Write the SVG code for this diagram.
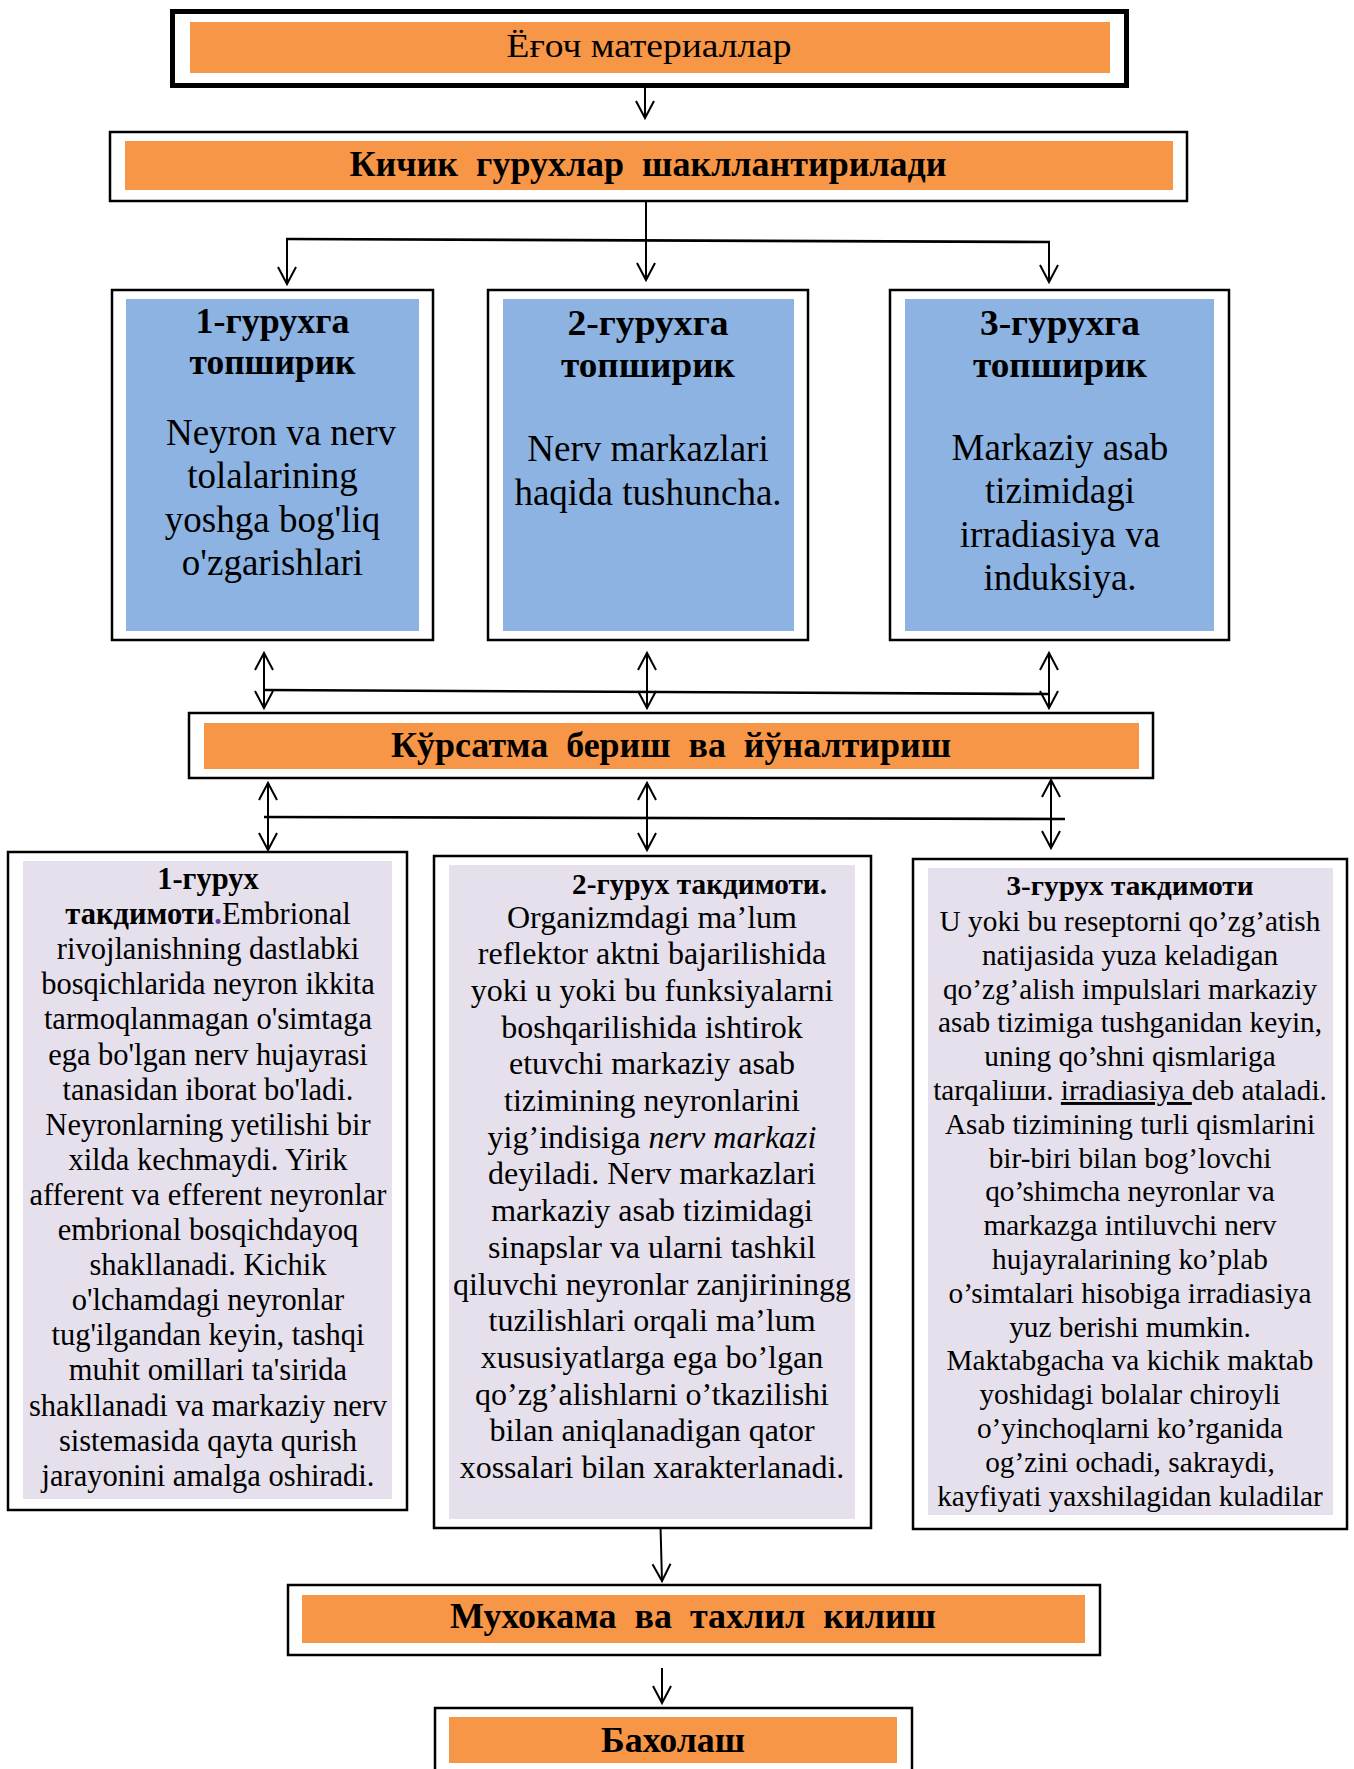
<svg xmlns="http://www.w3.org/2000/svg" width="1354" height="1769" viewBox="0 0 1354 1769">
<style>
.frame{fill:#fff;stroke:#000;stroke-width:2.5}
.thick{fill:#fff;stroke:#000;stroke-width:5}
.or{fill:#F79646}
.bl{fill:#8DB3E2}
.lv{fill:#E5E0EC}
text{font-family:"Liberation Serif","Times New Roman",serif;fill:#000}
.h{font-weight:bold;font-size:36px;text-anchor:middle;white-space:pre}
.bt{font-weight:bold;font-size:36px;text-anchor:middle}
.bb{font-size:37px;text-anchor:middle}
.tL{font-size:30.5px;text-anchor:middle}
.tM{font-size:32px;text-anchor:middle}
.tR{font-size:29.3px;text-anchor:middle}
.c{fill:none;stroke:#000;stroke-width:2}
.hl{fill:none;stroke:#000;stroke-width:2.6}
</style>
<defs>
<marker id="ah" viewBox="-20 -12 24 24" refX="0" refY="0" markerWidth="24" markerHeight="24" markerUnits="userSpaceOnUse" orient="auto-start-reverse">
<path d="M-17,-9 L0,0 L-17,9" fill="none" stroke="#000" stroke-width="2"/>
</marker>
</defs>

<g id="connectors">
<line class="c" x1="645" y1="88" x2="645" y2="118" marker-end="url(#ah)"/>
<line class="c" x1="646" y1="202" x2="646" y2="280" marker-end="url(#ah)"/>
<line class="hl" x1="286" y1="239" x2="1050" y2="242"/>
<line class="c" x1="287" y1="239" x2="287" y2="284" marker-end="url(#ah)"/>
<line class="c" x1="1049" y1="242" x2="1049" y2="282" marker-end="url(#ah)"/>
<line class="c" x1="264" y1="653" x2="264" y2="708" marker-start="url(#ah)" marker-end="url(#ah)"/>
<line class="c" x1="647" y1="653" x2="647" y2="708" marker-start="url(#ah)" marker-end="url(#ah)"/>
<line class="c" x1="1049" y1="653" x2="1049" y2="708" marker-start="url(#ah)" marker-end="url(#ah)"/>
<line class="hl" x1="264" y1="690" x2="1049" y2="694"/>
<line class="c" x1="268" y1="783" x2="268" y2="850" marker-start="url(#ah)" marker-end="url(#ah)"/>
<line class="c" x1="647" y1="783" x2="647" y2="850" marker-start="url(#ah)" marker-end="url(#ah)"/>
<line class="c" x1="1051" y1="780" x2="1051" y2="848" marker-start="url(#ah)" marker-end="url(#ah)"/>
<line class="hl" x1="264" y1="817" x2="1065" y2="819"/>
<line class="c" x1="660" y1="1508" x2="662" y2="1581" marker-end="url(#ah)"/>
<line class="c" x1="662" y1="1668" x2="662" y2="1703" marker-end="url(#ah)"/>
</g>

<g id="n-materials">
<rect class="thick" x="172.5" y="11.5" width="954" height="74"/>
<rect class="or" x="190" y="22" width="920" height="51"/>
<text x="649" y="57" font-size="34" text-anchor="middle" textLength="285" lengthAdjust="spacingAndGlyphs">Ёғоч материаллар</text>
</g>

<g id="n-groups">
<rect class="frame" x="110" y="132" width="1077" height="69"/>
<rect class="or" x="125" y="141" width="1048" height="49"/>
<text class="h" xml:space="preserve" x="648" y="176" textLength="597" lengthAdjust="spacingAndGlyphs">Кичик  гурухлар  шакллантирилади</text>
</g>

<g id="n-task1">
<rect class="frame" x="112" y="290" width="321" height="350"/>
<rect class="bl" x="126" y="299" width="293" height="332"/>
<text class="bt" x="272.5" y="333" textLength="154" lengthAdjust="spacingAndGlyphs">1-гурухга</text>
<text class="bt" x="272.5" y="374" textLength="166" lengthAdjust="spacingAndGlyphs">топширик</text>
<text class="bb" x="281" y="445">Neyron va nerv</text>
<text class="bb" x="272.5" y="488">tolalarining</text>
<text class="bb" x="272.5" y="532">yoshga bog'liq</text>
<text class="bb" x="272.5" y="575">o'zgarishlari</text>
</g>

<g id="n-task2">
<rect class="frame" x="488" y="290" width="320" height="350"/>
<rect class="bl" x="503" y="299" width="291" height="332"/>
<text class="bt" x="648" y="335" textLength="161" lengthAdjust="spacingAndGlyphs">2-гурухга</text>
<text class="bt" x="648" y="377" textLength="174" lengthAdjust="spacingAndGlyphs">топширик</text>
<text class="bb" x="648" y="461">Nerv markazlari</text>
<text class="bb" x="648" y="505">haqida tushuncha.</text>
</g>

<g id="n-task3">
<rect class="frame" x="890" y="290" width="339" height="350"/>
<rect class="bl" x="905" y="299" width="309" height="332"/>
<text class="bt" x="1060" y="335" textLength="160" lengthAdjust="spacingAndGlyphs">3-гурухга</text>
<text class="bt" x="1060" y="377" textLength="174" lengthAdjust="spacingAndGlyphs">топширик</text>
<text class="bb" x="1060" y="460">Markaziy asab</text>
<text class="bb" x="1060" y="503">tizimidagi</text>
<text class="bb" x="1060" y="547">irradiasiya va</text>
<text class="bb" x="1060" y="590">induksiya.</text>
</g>

<g id="n-guidance">
<rect class="frame" x="189" y="713" width="964" height="65"/>
<rect class="or" x="204" y="723" width="935" height="46"/>
<text class="h" xml:space="preserve" x="671" y="757" textLength="560" lengthAdjust="spacingAndGlyphs">Кўрсатма  бериш  ва  йўналтириш</text>
</g>

<g id="n-pres1">
<rect class="frame" x="8" y="852" width="399" height="658"/>
<rect class="lv" x="23" y="861" width="369" height="638"/>
<text class="tL" x="208" y="889" font-weight="bold">1-гурух</text>
<text class="tL" x="208" y="924.1"><tspan font-weight="bold">такдимоти</tspan><tspan font-weight="bold" fill="#7030A0">.</tspan>Embrional</text>
<text class="tL" x="208" y="959.2">rivojlanishning dastlabki</text>
<text class="tL" x="208" y="994.3">bosqichlarida neyron ikkita</text>
<text class="tL" x="208" y="1029.4">tarmoqlanmagan o'simtaga</text>
<text class="tL" x="208" y="1064.5">ega bo'lgan nerv hujayrasi</text>
<text class="tL" x="208" y="1099.6">tanasidan iborat bo'ladi.</text>
<text class="tL" x="208" y="1134.7">Neyronlarning yetilishi bir</text>
<text class="tL" x="208" y="1169.8">xilda kechmaydi. Yirik</text>
<text class="tL" x="208" y="1204.9">afferent va efferent neyronlar</text>
<text class="tL" x="208" y="1240">embrional bosqichdayoq</text>
<text class="tL" x="208" y="1275.1">shakllanadi. Kichik</text>
<text class="tL" x="208" y="1310.2">o'lchamdagi neyronlar</text>
<text class="tL" x="208" y="1345.3">tug'ilgandan keyin, tashqi</text>
<text class="tL" x="208" y="1380.4">muhit omillari ta'sirida</text>
<text class="tL" x="208" y="1415.5">shakllanadi va markaziy nerv</text>
<text class="tL" x="208" y="1450.6">sistemasida qayta qurish</text>
<text class="tL" x="208" y="1485.7">jarayonini amalga oshiradi.</text>
</g>

<g id="n-pres2">
<rect class="frame" x="434" y="856" width="437" height="672"/>
<rect class="lv" x="449" y="865" width="406" height="654"/>
<text x="572" y="894" font-size="29" font-weight="bold" textLength="255" lengthAdjust="spacingAndGlyphs">2-гурух такдимоти.</text>
<text class="tM" x="652" y="927.5">Organizmdagi ma’lum</text>
<text class="tM" x="652" y="964.2">reflektor aktni bajarilishida</text>
<text class="tM" x="652" y="1000.9">yoki u yoki bu funksiyalarni</text>
<text class="tM" x="652" y="1037.6">boshqarilishida ishtirok</text>
<text class="tM" x="652" y="1074.3">etuvchi markaziy asab</text>
<text class="tM" x="652" y="1111">tizimining neyronlarini</text>
<text class="tM" x="652" y="1147.7">yig’indisiga <tspan font-style="italic">nerv markazi</tspan></text>
<text class="tM" x="652" y="1184.4">deyiladi. Nerv markazlari</text>
<text class="tM" x="652" y="1221.1">markaziy asab tizimidagi</text>
<text class="tM" x="652" y="1257.8">sinapslar va ularni tashkil</text>
<text class="tM" x="652" y="1294.5">qiluvchi neyronlar zanjiriningg</text>
<text class="tM" x="652" y="1331.2">tuzilishlari orqali ma’lum</text>
<text class="tM" x="652" y="1367.9">xususiyatlarga ega bo’lgan</text>
<text class="tM" x="652" y="1404.6">qo’zg’alishlarni o’tkazilishi</text>
<text class="tM" x="652" y="1441.3">bilan aniqlanadigan qator</text>
<text class="tM" x="652" y="1478">xossalari bilan xarakterlanadi.</text>
</g>

<g id="n-pres3">
<rect class="frame" x="913" y="859" width="434" height="670"/>
<rect class="lv" x="928" y="868" width="405" height="647"/>
<text x="1130" y="895" font-size="27" font-weight="bold" text-anchor="middle" textLength="247" lengthAdjust="spacingAndGlyphs">3-гурух такдимоти</text>
<text class="tR" x="1130" y="931">U yoki bu reseptorni qo’zg’atish</text>
<text class="tR" x="1130" y="964.8">natijasida yuza keladigan</text>
<text class="tR" x="1130" y="998.6">qo’zg’alish impulslari markaziy</text>
<text class="tR" x="1130" y="1032.4">asab tizimiga tushganidan keyin,</text>
<text class="tR" x="1130" y="1066.2">uning qo’shni qismlariga</text>
<text class="tR" x="1130" y="1100">tarqaliши. <tspan text-decoration="underline">irradiasiya </tspan>deb ataladi.</text>
<text class="tR" x="1130" y="1133.8">Asab tizimining turli qismlarini</text>
<text class="tR" x="1130" y="1167.6">bir-biri bilan bog’lovchi</text>
<text class="tR" x="1130" y="1201.4">qo’shimcha neyronlar va</text>
<text class="tR" x="1130" y="1235.2">markazga intiluvchi nerv</text>
<text class="tR" x="1130" y="1269">hujayralarining ko’plab</text>
<text class="tR" x="1130" y="1302.8">o’simtalari hisobiga irradiasiya</text>
<text class="tR" x="1130" y="1336.6">yuz berishi mumkin.</text>
<text class="tR" x="1130" y="1370.4">Maktabgacha va kichik maktab</text>
<text class="tR" x="1130" y="1404.2">yoshidagi bolalar chiroyli</text>
<text class="tR" x="1130" y="1438">o’yinchoqlarni ko’rganida</text>
<text class="tR" x="1130" y="1471.8">og’zini ochadi, sakraydi,</text>
<text class="tR" x="1130" y="1505.6">kayfiyati yaxshilagidan kuladilar</text>
</g>

<g id="n-discussion">
<rect class="frame" x="288" y="1585" width="812" height="70"/>
<rect class="or" x="302" y="1595" width="783" height="48"/>
<text class="h" xml:space="preserve" x="693" y="1628" textLength="486" lengthAdjust="spacingAndGlyphs">Мухокама  ва  тахлил  килиш</text>
</g>

<g id="n-evaluation">
<rect class="frame" x="435" y="1708" width="477" height="80"/>
<rect class="or" x="449" y="1717" width="448" height="46"/>
<text class="h" x="673" y="1752" textLength="144" lengthAdjust="spacingAndGlyphs">Бахолаш</text>
</g>
</svg>
